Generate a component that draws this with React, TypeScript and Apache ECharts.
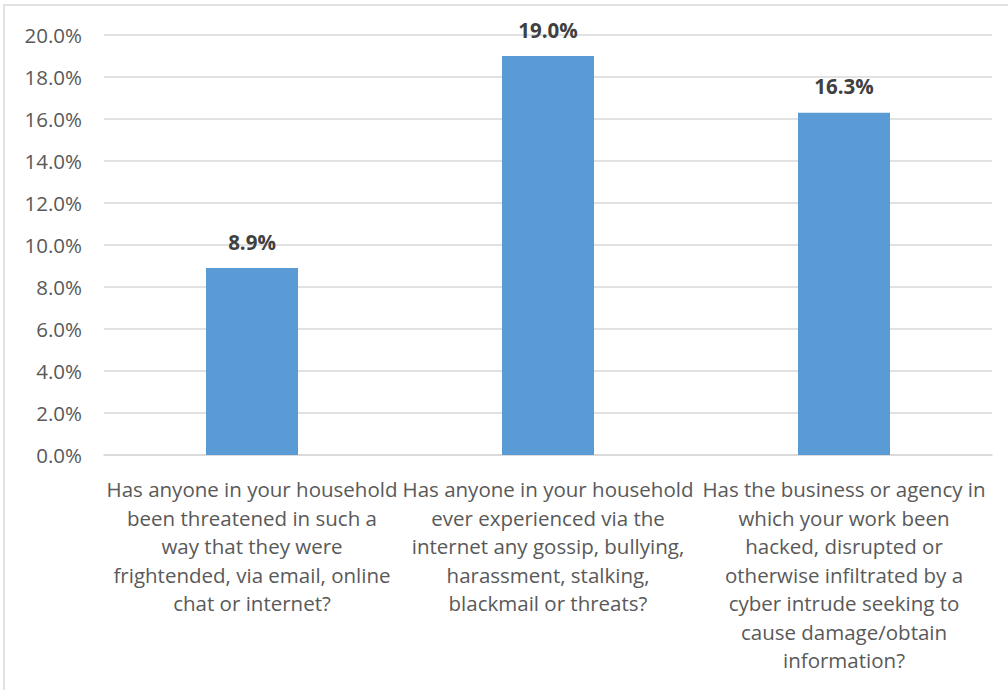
import React, { useEffect, useRef } from "react";
import * as echarts from "echarts";

const categories: string[] = [
  "Has anyone in your household\nbeen threatened in such a\nway that they were\nfrightended, via email, online\nchat or internet?",
  "Has anyone in your household\never experienced via the\ninternet any gossip, bullying,\nharassment, stalking,\nblackmail or threats?",
  "Has the business or agency in\nwhich your work been\nhacked, disrupted or\notherwise infiltrated by a\ncyber intrude seeking to\ncause damage/obtain\ninformation?",
];
const values: number[] = [8.9, 19.0, 16.3];
const yTicks = { min: 0, max: 20, interval: 2 };

const FONT = "'Open Sans', Lato, sans-serif";

export default function App() {
  const ref = useRef<HTMLDivElement>(null);
  useEffect(() => {
    document.body.style.margin = "0";
    const chart = echarts.init(ref.current!, undefined, { renderer: "svg" });
    chart.setOption({
      animation: false,
      backgroundColor: "#ffffff",
      textStyle: { fontFamily: FONT },
      graphic: [
        {
          type: "rect",
          shape: { x: 4, y: 5, width: 1020, height: 700 },
          style: { fill: "none", stroke: "#d9d9d9", lineWidth: 1.5 },
          silent: true,
          z: -1,
        },
      ],
      grid: { left: 104, right: 16, top: 35, bottom: 235, containLabel: false },
      xAxis: {
        type: "category",
        data: categories,
        axisLine: { show: true, lineStyle: { color: "#d9d9d9", width: 1.5 } },
        axisTick: { show: false },
        axisLabel: {
          interval: 0,
          color: "#595959",
          fontFamily: FONT,
          fontSize: 20.5,
          lineHeight: 28.5,
          margin: 20,
          verticalAlign: "top",
        },
      },
      yAxis: {
        type: "value",
        min: yTicks.min,
        max: yTicks.max,
        interval: yTicks.interval,
        axisLine: { show: false },
        axisTick: { show: false },
        splitLine: { lineStyle: { color: "#d9d9d9", width: 1.5 } },
        axisLabel: {
          color: "#595959",
          fontFamily: FONT,
          fontSize: 20.5,
          margin: 22,
          formatter: (v: number) => v.toFixed(1) + "%",
        },
      },
      series: [
        {
          type: "bar",
          data: values,
          barWidth: 92,
          itemStyle: { color: "#5b9bd5" },
          label: {
            show: true,
            position: "top",
            distance: 16,
            color: "#404040",
            fontWeight: "bold",
            fontFamily: FONT,
            fontSize: 20.5,
            formatter: (p: any) => p.value.toFixed(1) + "%",
          },
        },
      ],
    });
    return () => chart.dispose();
  }, []);
  return <div ref={ref} style={{ width: 1008, height: 690 }} />;
}
